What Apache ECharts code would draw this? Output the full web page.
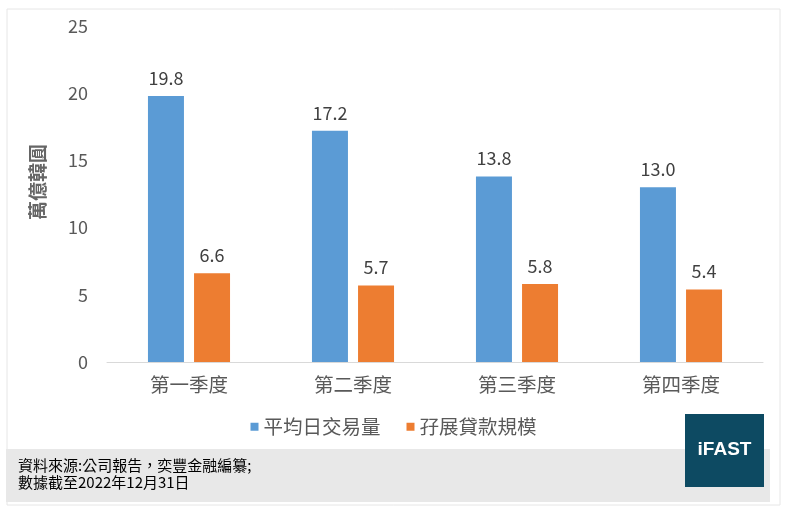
<!DOCTYPE html>
<html>
<head>
<meta charset="utf-8">
<script src="https://cdn.jsdelivr.net/npm/echarts@6/dist/echarts.min.js"></script>
<style>
html,body{margin:0;padding:0;background:#fff;}
#chart{width:787px;height:509px;}
</style>
</head>
<body>
<div id="chart"></div>
<script>
// 季度
var quarters = ['第一季度', '第二季度', '第三季度', '第四季度'];
// 平均日交易量
var dailyVolume = [19.8, 17.2, 13.8, 13.0];
// 孖展貸款規模
var marginLoan = [6.6, 5.7, 5.8, 5.4];
var yTicks = [0, 5, 10, 15, 20, 25];
var seriesNames = ['平均日交易量', '孖展貸款規模'];

var font = '"Noto Sans CJK TC", "Noto Sans", sans-serif';
var myChart = echarts.init(document.getElementById('chart'));

var option = {
	backgroundColor: '#fff',
	textStyle: { fontFamily: font },
	grid: { left: 107, right: 24, top: 26, bottom: 147 },
	legend: {
		data: seriesNames,
		left: 'center',
		top: 412,
		icon: 'rect',
		itemWidth: 8,
		itemHeight: 8,
		itemGap: 26,
		textStyle: { fontSize: 19.5, color: '#595959', fontFamily: font, padding: [0, 0, 0, 0] }
	},
	xAxis: {
		type: 'category',
		data: quarters,
		axisLine: { lineStyle: { color: '#d9d9d9', width: 1 } },
		axisTick: { show: false },
		axisLabel: { fontSize: 19.5, color: '#595959', margin: 13 }
	},
	yAxis: {
		type: 'value',
		min: yTicks[0],
		max: yTicks[yTicks.length - 1],
		interval: 5,
		splitLine: { show: false },
		axisLine: { show: false },
		axisTick: { show: false },
		axisLabel: { fontSize: 18, color: '#595959', margin: 19 }
	},
	series: [
		{
			name: seriesNames[0],
			type: 'bar',
			data: dailyVolume,
			barWidth: 36,
			barGap: '28%',
			itemStyle: { color: '#5b9bd5' },
			label: {
				show: true, position: 'top', distance: 9,
				fontSize: 18, color: '#404040',
				formatter: function (p) { return p.value.toFixed(1); }
			}
		},
		{
			name: seriesNames[1],
			type: 'bar',
			data: marginLoan,
			barWidth: 36,
			itemStyle: { color: '#ed7d31' },
			label: {
				show: true, position: 'top', distance: 9,
				fontSize: 18, color: '#404040',
				formatter: function (p) { return p.value.toFixed(1); }
			}
		}
	],
	graphic: [
		// 外框
		{ type: 'rect', z: -10, shape: { x: 7, y: 9, width: 773, height: 496 },
		  style: { fill: '#fff', stroke: '#e6e6e6', lineWidth: 1 } },
		// 底部灰條
		{ type: 'rect', z: -5, shape: { x: 6, y: 449, width: 764, height: 53 },
		  style: { fill: '#e8e8e8' } },
		{ type: 'text', left: 18, top: 457,
		  style: { text: '資料來源:公司報告，奕豐金融編纂;\n數據截至2022年12月31日', fill: '#000', font: '15px ' + font, lineHeight: 17 } },
		// iFAST
		{ type: 'rect', shape: { x: 685, y: 414, width: 79, height: 73 },
		  style: { fill: '#0d4a62' } },
		{ type: 'text', x: 724.5, y: 450,
		  style: { text: 'iFAST', fill: '#fff', font: 'bold 19px Arial, "Liberation Sans", sans-serif', align: 'center', verticalAlign: 'middle' } },
		// y轴名称
		{ type: 'text', x: 38, y: 182, rotation: Math.PI / 2,
		  style: { text: '萬億韓圓', fill: '#666', font: 'bold 19px ' + font, align: 'center', verticalAlign: 'middle' } }
	]
};
myChart.setOption(option);
</script>
</body>
</html>
